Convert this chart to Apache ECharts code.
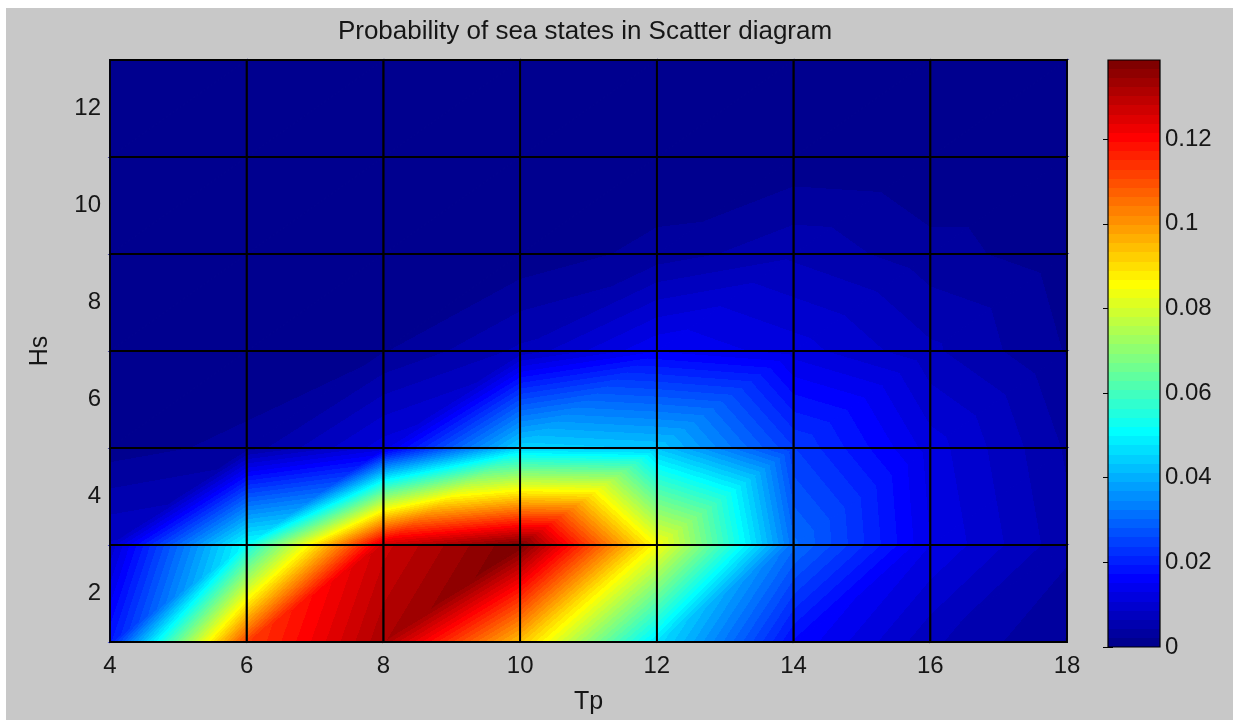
<!DOCTYPE html>
<html>
<head>
<meta charset="utf-8">
<script src="https://cdn.jsdelivr.net/npm/echarts@6/dist/echarts.min.js"></script>
<style>
  html, body { margin: 0; padding: 0; background: #ffffff; }
  #frame { position: absolute; left: 6px; top: 8px; right: 0; bottom: 0; background: #c8c8c8; }
  #chart { position: absolute; left: 0; top: 0; width: 1233px; height: 720px; }
</style>
</head>
<body>
<div id="frame"></div>
<div id="chart"></div>
<script>
// Peak period Tp (columns) and significant wave height Hs (rows) of the mesh nodes
const tp = [4, 6, 8, 10, 12, 14, 16, 18];
const hs = [1, 3, 5, 7, 9, 11, 13];

// Probability of each sea state, one list per Hs row (values along Tp)
const pHs1  = [0.019, 0.112, 0.132, 0.094, 0.047, 0.017, 0.007, 0.002];
const pHs3  = [0.009, 0.052, 0.127, 0.1387, 0.085, 0.031, 0.013, 0.005];
const pHs5  = [0.001, 0.003, 0.012, 0.045, 0.043, 0.024, 0.012, 0.004];
const pHs7  = [0.000, 0.000, 0.002, 0.007, 0.015, 0.012, 0.007, 0.002];
const pHs9  = [0.000, 0.000, 0.000, 0.0005, 0.003, 0.006, 0.003, 0.001];
const pHs11 = [0.000, 0.000, 0.000, 0.000, 0.000, 0.0005, 0.000, 0.000];
const pHs13 = [0.000, 0.000, 0.000, 0.000, 0.000, 0.000, 0.000, 0.000];
const prob = [pHs1, pHs3, pHs5, pHs7, pHs9, pHs11, pHs13];

// Tick labels
const tpTicks = [4, 6, 8, 10, 12, 14, 16, 18];
const hsTicks = [2, 4, 6, 8, 10, 12];
const barTicks = [0, 0.02, 0.04, 0.06, 0.08, 0.1, 0.12];

// Colour limits follow the data range
const CMIN = 0;
const CMAX = Math.max(...prob.flat());

// 64-level jet colormap
function jet(m) {
  const n = Math.ceil(m / 4);
  const u = [];
  for (let i = 1; i <= n; i++) u.push(i / n);
  for (let i = 1; i < n; i++) u.push(1);
  for (let i = n; i >= 1; i--) u.push(i / n);
  const gStart = Math.ceil(n / 2) - (m % 4 === 1 ? 1 : 0);
  const J = Array.from({ length: m }, () => [0, 0, 0]);
  for (let k = 1; k <= u.length; k++) {
    const g = gStart + k, r = g + n;
    if (g <= m) J[g - 1][1] = u[k - 1];
    if (r <= m) J[r - 1][0] = u[k - 1];
  }
  const bIdx = [];
  for (let k = 1; k <= u.length; k++) { const b = gStart + k - n; if (b >= 1) bIdx.push(b); }
  bIdx.forEach((b, i) => { J[b - 1][2] = u[u.length - bIdx.length + i]; });
  return J.map(c => 'rgb(' + c.map(x => Math.round(x * 255)).join(',') + ')');
}
const CMAP = jet(64);
const LEVELS = CMAP.length;

// Stepped colour stops spanning CMIN..CMAX
const colorStops = [];
CMAP.forEach((c, k) => {
  colorStops.push({ offset: k / LEVELS, color: c });
  colorStops.push({ offset: (k + 1) / LEVELS, color: c });
});

function levelOf(v) {
  const k = Math.floor((v - CMIN) / (CMAX - CMIN) * LEVELS);
  return Math.max(0, Math.min(LEVELS - 1, k));
}

// Mesh cells: corner coordinates plus the four node values
const cells = [];
for (let j = 0; j < hs.length - 1; j++) {
  for (let i = 0; i < tp.length - 1; i++) {
    cells.push([tp[i], hs[j], tp[i + 1], hs[j + 1],
      prob[j][i], prob[j][i + 1], prob[j + 1][i], prob[j + 1][i + 1]]);
  }
}

// Linearly shaded triangle: a linear gradient along the value gradient
function shadedTriangle(p0, p1, p2, v0, v1, v2) {
  let fill;
  const l0 = levelOf(v0), l1 = levelOf(v1), l2 = levelOf(v2);
  if (l0 === l1 && l1 === l2) {
    fill = CMAP[l0];
  } else {
    const e1x = p1[0] - p0[0], e1y = p1[1] - p0[1];
    const e2x = p2[0] - p0[0], e2y = p2[1] - p0[1];
    const det = e1x * e2y - e1y * e2x;
    const gx = ((v1 - v0) * e2y - (v2 - v0) * e1y) / det;
    const gy = ((v2 - v0) * e1x - (v1 - v0) * e2x) / det;
    const g2 = gx * gx + gy * gy;
    const a = (CMIN - v0) / g2, b = (CMAX - v0) / g2;
    fill = new echarts.graphic.LinearGradient(
      p0[0] + a * gx, p0[1] + a * gy, p0[0] + b * gx, p0[1] + b * gy,
      colorStops, true);
  }
  return {
    type: 'polygon',
    shape: { points: [p0, p1, p2] },
    style: { fill: fill, stroke: fill, lineWidth: 1.5 }
  };
}

function renderSurface(params, api) {
  const x0 = api.value(0), y0 = api.value(1), x1 = api.value(2), y1 = api.value(3);
  const vA = api.value(4), vB = api.value(5), vC = api.value(6), vD = api.value(7);
  const pA = api.coord([x0, y0]), pB = api.coord([x1, y0]);
  const pC = api.coord([x0, y1]), pD = api.coord([x1, y1]);
  return {
    type: 'group',
    children: [
      shadedTriangle(pA, pB, pD, vA, vB, vD),
      shadedTriangle(pA, pD, pC, vA, vD, vC)
    ]
  };
}

function renderEdges(params, api) {
  const p0 = api.coord([api.value(0), api.value(3)]);
  const p1 = api.coord([api.value(2), api.value(1)]);
  return {
    type: 'rect',
    shape: { x: p0[0], y: p0[1], width: p1[0] - p0[0], height: p1[1] - p0[1] },
    style: { fill: null, stroke: '#000', lineWidth: 1.8 }
  };
}

function renderColorbar(params, api) {
  const top = api.coord([0, api.value(1)]);
  const bottom = api.coord([1, api.value(0)]);
  return {
    type: 'rect',
    shape: { x: top[0], y: top[1], width: bottom[0] - top[0], height: bottom[1] - top[1] },
    style: {
      fill: new echarts.graphic.LinearGradient(0, 1, 0, 0, colorStops),
      stroke: '#000', lineWidth: 1.2
    }
  };
}

const FONT = 'Liberation Sans, Arial, sans-serif';
const TXT = '#161616';

const chart = echarts.init(document.getElementById('chart'), null, { renderer: 'canvas' });
chart.setOption({
  backgroundColor: 'transparent',
  animation: false,
  graphic: [{
    type: 'text', x: 585, y: 32, z: 10,
    style: {
      text: 'Probability of sea states in Scatter diagram',
      fontFamily: FONT, fontSize: 26, fill: TXT,
      textAlign: 'center', textVerticalAlign: 'middle'
    }
  }],
  grid: [
    { left: 110, top: 60, width: 957, height: 587, show: true, borderColor: '#000', borderWidth: 1.2, backgroundColor: 'transparent' },
    { left: 1108, top: 60, width: 52, height: 587, show: false }
  ],
  xAxis: [{
    gridIndex: 0, type: 'value', min: 4, max: 18, interval: 2,
    name: 'Tp', nameLocation: 'middle', nameGap: 48,
    nameTextStyle: { fontFamily: FONT, fontSize: 25, color: TXT },
    axisLine: { show: true, lineStyle: { color: '#000', width: 1.2 } },
    axisTick: { show: false },
    splitLine: { show: false },
    axisLabel: { fontFamily: FONT, fontSize: 24, color: TXT, margin: 12,
      customValues: tpTicks, formatter: v => String(v) }
  }, {
    gridIndex: 1, type: 'value', min: 0, max: 1, show: false
  }],
  yAxis: [{
    gridIndex: 0, type: 'value', min: 1, max: 13,
    name: 'Hs', nameLocation: 'middle', nameGap: 57, nameRotate: 90,
    nameTextStyle: { fontFamily: FONT, fontSize: 25, color: TXT },
    axisLine: { show: true, lineStyle: { color: '#000', width: 1.2 } },
    axisTick: { show: false },
    splitLine: { show: false },
    axisLabel: { fontFamily: FONT, fontSize: 24, color: TXT, margin: 9,
      customValues: hsTicks, formatter: v => String(v) }
  }, {
    gridIndex: 1, type: 'value', min: CMIN, max: CMAX, position: 'right',
    axisLine: { show: false },
    axisTick: { show: true, inside: true, length: 5, lineStyle: { color: '#000' }, customValues: barTicks },
    splitLine: { show: false },
    axisLabel: { fontFamily: FONT, fontSize: 24, color: TXT, margin: 5,
      customValues: barTicks, formatter: v => String(+v.toFixed(2)) }
  }, {
    gridIndex: 1, type: 'value', min: CMIN, max: CMAX, position: 'left',
    axisLine: { show: false },
    axisTick: { show: true, inside: true, length: 5, lineStyle: { color: '#000' }, customValues: barTicks },
    splitLine: { show: false },
    axisLabel: { show: false }
  }],
  series: [{
    type: 'custom', xAxisIndex: 0, yAxisIndex: 0,
    renderItem: renderSurface, data: cells, z: 1, silent: true
  }, {
    type: 'custom', xAxisIndex: 0, yAxisIndex: 0,
    renderItem: renderEdges, data: cells, z: 2, silent: true
  }, {
    type: 'custom', xAxisIndex: 1, yAxisIndex: 1,
    renderItem: renderColorbar, data: [[CMIN, CMAX]], z: 1, silent: true
  }]
});
</script>
</body>
</html>
